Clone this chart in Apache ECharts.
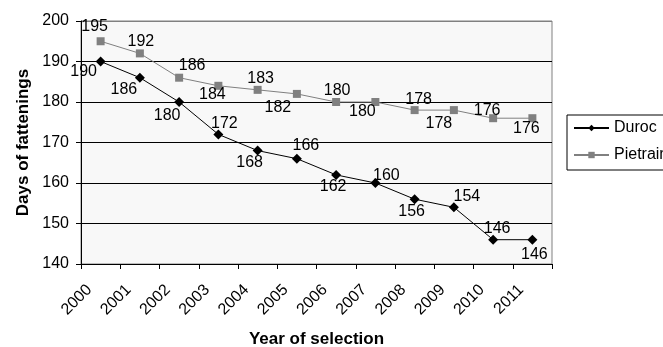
<!DOCTYPE html>
<html>
<head>
<meta charset="utf-8">
<script src="https://cdn.jsdelivr.net/npm/echarts@6/dist/echarts.min.js"></script>
<style>
  html, body { margin: 0; padding: 0; background: #fff; }
  #chart { width: 663px; height: 347px; }
</style>
</head>
<body>
<div id="chart"></div>
<script>
// Days of fattening by year of selection, two breeds
const years = ['2000','2001','2002','2003','2004','2005','2006','2007','2008','2009','2010','2011'];
const duroc = [190, 186, 180, 172, 168, 166, 162, 160, 156, 154, 146, 146];
const pietrain = [195, 192, 186, 184, 183, 182, 180, 180, 178, 178, 176, 176];
const yTicks = { min: 140, max: 200, step: 10 };

// label offsets (px) from each point, placed to keep labels clear of the lines
const durocLabelOffsets = [[-17,10],[-16,12],[-12,14],[6,-11],[-8,12],[9,-13],[-3,12],[11,-7],[-3,12],[13,-11],[4,-11],[2,15]];
const pietrainLabelOffsets = [[-6,-15],[1,-12],[13,-12],[-6,9],[3,-11],[-19,14],[1,-11],[-13,10],[4,-11],[-15,13],[-6,-8],[-6,10]];

const FONT = "'Liberation Sans', Arial, sans-serif";

function withLabels(values, offsets) {
  return values.map((v, i) => ({
    value: v,
    label: { offset: offsets[i] }
  }));
}

const chart = echarts.init(document.getElementById('chart'), null, { renderer: 'canvas' });

const labelStyle = {
  show: true,
  position: 'inside',
  color: '#000',
  fontFamily: FONT,
  fontSize: 16
};

chart.setOption({
  animation: false,
  backgroundColor: '#fff',
  grid: {
    left: 81, right: 111, top: 21, bottom: 83,
    containLabel: false,
    outerBoundsMode: 'none',
    show: true,
    backgroundColor: '#f8f8f8',
    borderColor: '#808080',
    borderWidth: 1
  },
  legend: {
    orient: 'vertical',
    left: 567, top: 115,
    padding: [5, 6, 7, 6],
    itemWidth: 35, itemHeight: 8, itemGap: 11,
    backgroundColor: '#fff',
    borderColor: '#000', borderWidth: 1, borderRadius: 0,
    textStyle: { fontFamily: FONT, fontSize: 16, color: '#000', lineHeight: 16 },
    data: ['Duroc', 'Pietrain']
  },
  xAxis: {
    type: 'category',
    data: years,
    boundaryGap: true,
    name: 'Year of selection',
    nameLocation: 'middle',
    nameGap: 67,
    nameTextStyle: { fontFamily: FONT, fontSize: 17, fontWeight: 'bold', color: '#000' },
    axisLine: { lineStyle: { color: '#000', width: 1 } },
    axisTick: { show: true, length: 5, lineStyle: { color: '#000' } },
    axisLabel: {
      rotate: 45,
      margin: 12,
      padding: [0, 16, 0, 0],
      fontFamily: FONT, fontSize: 16, color: '#000'
    },
    splitLine: { show: false }
  },
  yAxis: {
    type: 'value',
    min: yTicks.min, max: yTicks.max, interval: yTicks.step,
    name: 'Days of fattenings',
    nameLocation: 'middle',
    nameGap: 48,
    nameRotate: 90,
    nameTextStyle: { fontFamily: FONT, fontSize: 17, fontWeight: 'bold', color: '#000' },
    axisLine: { show: true, lineStyle: { color: '#000', width: 1 } },
    axisTick: { show: true, length: 5, lineStyle: { color: '#000' } },
    axisLabel: { margin: 12, fontFamily: FONT, fontSize: 16, color: '#000' },
    splitLine: {
      show: true,
      lineStyle: { color: ['#000', '#000', '#000', '#000', '#000', '#000', '#808080'], width: 1 }
    }
  },
  series: [
    {
      name: 'Duroc',
      type: 'line',
      data: withLabels(duroc, durocLabelOffsets),
      symbol: 'diamond',
      symbolSize: 10,
      showAllSymbol: true,
      itemStyle: { color: '#000' },
      lineStyle: { color: '#000', width: 1 },
      label: labelStyle,
      z: 3
    },
    {
      name: 'Pietrain',
      type: 'line',
      data: withLabels(pietrain, pietrainLabelOffsets),
      symbol: 'rect',
      symbolSize: 8,
      showAllSymbol: true,
      itemStyle: { color: '#808080' },
      lineStyle: { color: '#808080', width: 1 },
      label: labelStyle,
      z: 2
    }
  ]
});
</script>
</body>
</html>
